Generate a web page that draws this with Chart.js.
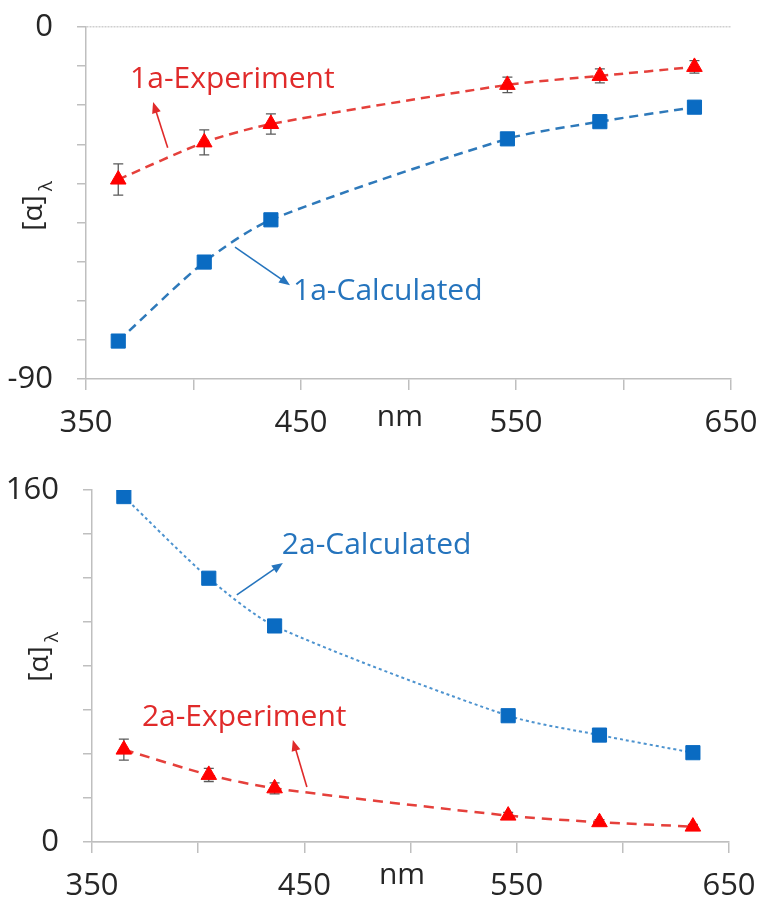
<!DOCTYPE html>
<html>
<head>
<meta charset="utf-8">
<script src="https://cdn.jsdelivr.net/npm/chart.js@4.4.1/dist/chart.umd.min.js"></script>
<style>
  html, body { margin: 0; padding: 0; background: #fff; }
  canvas { display: block; }
</style>
</head>
<body>
<canvas id="chart1a" width="760" height="440"></canvas>
<canvas id="chart2a" width="760" height="460"></canvas>
<script>
// wavelengths (nm) shared by both panels
const wavelengths = [365, 405, 436, 546, 589, 633];

// compound 1a
const exp1a = [-39, -29.5, -24.8, -14.8, -12.5, -10.2];
const err1a = [4, 3.2, 2.6, 2, 1.8, 1.6];
const calc1a = [-80.3, -60.1, -49.3, -28.6, -24.2, -20.5];

// compound 2a
const calc2a = [157, 119.9, 98.2, 57.4, 48.6, 40.6];
const exp2a = [42, 30.5, 24.4, 12, 9, 7];
const err2a = [4.8, 3, 2.5, 1.5, 1.2, 1];

const xTicks = [350, 450, 550, 650];

Chart.defaults.font.family = '"Open Sans", sans-serif';
Chart.defaults.color = '#262626';

const RED = '#ff0000';
const RED_LINE = '#e5403b';
const BLUE = '#0a6bc2';
const BLUE_LINE = '#2e79ba';

function points(ys) {
  return wavelengths.map((w, i) => ({ x: w, y: ys[i] }));
}

// vertical error bars with caps, drawn under the markers
const errorBars = {
  id: 'errorBars',
  beforeDatasetsDraw(chart, args, opts) {
    const { ctx, scales: { x, y } } = chart;
    const data = chart.data.datasets[opts.dataset].data;
    ctx.save();
    ctx.strokeStyle = '#5a5a5a';
    ctx.lineWidth = 1.3;
    opts.errors.forEach((e, i) => {
      const px = x.getPixelForValue(data[i].x);
      const t = y.getPixelForValue(data[i].y + e);
      const b = y.getPixelForValue(data[i].y - e);
      ctx.beginPath();
      ctx.moveTo(px, t); ctx.lineTo(px, b);
      ctx.moveTo(px - 5, t); ctx.lineTo(px + 5, t);
      ctx.moveTo(px - 5, b); ctx.lineTo(px + 5, b);
      ctx.stroke();
    });
    ctx.restore();
  }
};

// series captions with pointer arrows, placed in data units
const captions = {
  id: 'captions',
  afterDraw(chart, args, opts) {
    const { ctx, scales: { x, y } } = chart;
    ctx.save();
    opts.notes.forEach(n => {
      ctx.fillStyle = n.color;
      ctx.font = '30px "Open Sans", sans-serif';
      ctx.textBaseline = 'middle';
      ctx.textAlign = 'left';
      ctx.fillText(n.text, x.getPixelForValue(n.x), y.getPixelForValue(n.y));

      const x0 = x.getPixelForValue(n.from[0]), y0 = y.getPixelForValue(n.from[1]);
      const x1 = x.getPixelForValue(n.to[0]), y1 = y.getPixelForValue(n.to[1]);
      const a = Math.atan2(y1 - y0, x1 - x0);
      ctx.strokeStyle = n.color;
      ctx.lineWidth = 1.6;
      ctx.beginPath();
      ctx.moveTo(x0, y0);
      ctx.lineTo(x1 - 8 * Math.cos(a), y1 - 8 * Math.sin(a));
      ctx.stroke();
      ctx.beginPath();
      ctx.moveTo(x1, y1);
      ctx.lineTo(x1 - 11 * Math.cos(a) + 4.5 * Math.sin(a), y1 - 11 * Math.sin(a) - 4.5 * Math.cos(a));
      ctx.lineTo(x1 - 11 * Math.cos(a) - 4.5 * Math.sin(a), y1 - 11 * Math.sin(a) + 4.5 * Math.cos(a));
      ctx.closePath();
      ctx.fill();
    });
    ctx.restore();
  }
};

// rotated "[α]" with subscript λ, plus the "nm" unit under the x axis
const axisTitles = {
  id: 'axisTitles',
  afterDraw(chart, args, opts) {
    const { ctx, chartArea, scales: { x } } = chart;
    ctx.save();
    ctx.fillStyle = '#262626';
    ctx.textBaseline = 'middle';
    ctx.textAlign = 'left';

    ctx.font = '30px "Open Sans", sans-serif';
    ctx.fillText('nm', x.getPixelForValue(opts.unitAt) - 21, chartArea.bottom + opts.unitDy);

    ctx.translate(opts.titleX, (chartArea.top + chartArea.bottom) / 2 + opts.titleDy);
    ctx.rotate(-Math.PI / 2);
    ctx.font = '28px "Open Sans", sans-serif';
    const w = ctx.measureText('[α]').width;
    ctx.fillText('[α]', -w / 2 - 10, 0);
    ctx.font = '19px "Open Sans", sans-serif';
    ctx.fillText('λ', w / 2 - 6, 13);
    ctx.restore();
  }
};

function makeChart(id, cfg) {
  return new Chart(document.getElementById(id), {
    type: 'line',
    data: { datasets: cfg.datasets },
    plugins: [errorBars, captions, axisTitles],
    options: {
      responsive: false,
      animation: false,
      layout: { padding: cfg.padding },
      plugins: {
        legend: { display: false },
        tooltip: { enabled: false },
        errorBars: cfg.errorBars,
        captions: { notes: cfg.notes },
        axisTitles: cfg.titles
      },
      scales: {
        x: {
          type: 'linear',
          min: 350,
          max: 650,
          ticks: {
            stepSize: 50,
            autoSkip: false,
            maxRotation: 0,
            padding: cfg.xPad,
            font: { size: 31 },
            callback: v => xTicks.includes(v) ? String(v) : ''
          },
          grid: { drawOnChartArea: false, tickLength: 11, color: '#bfbfbf', lineWidth: 1.5 },
          border: { color: '#bfbfbf', width: 1.5 },
          afterFit: s => {
            s.height = cfg.xHeight;
            s.paddingLeft = 0;
            s.paddingRight = 0;
          }
        },
        y: {
          min: cfg.yMin,
          max: cfg.yMax,
          ticks: {
            stepSize: cfg.yStep,
            autoSkip: false,
            padding: cfg.yPad,
            font: { size: 31 },
            callback: v => (v === cfg.yMin || v === cfg.yMax) ? String(v) : ''
          },
          grid: {
            tickLength: 9,
            lineWidth: 1.5,
            tickColor: '#bfbfbf',
            color: ctx => (ctx.tick && ctx.tick.value === 0) ? '#cfcfcf' : 'rgba(0,0,0,0)'
          },
          border: { color: '#bfbfbf', width: 1.5, dash: cfg.zeroDash },
          afterFit: s => {
            s.width = cfg.yWidth;
            s.paddingTop = 0;
            s.paddingBottom = 0;
          }
        }
      }
    }
  });
}

makeChart('chart1a', {
  padding: { top: 27, right: 29, left: 0, bottom: 0 },
  yMin: -90, yMax: 0, yStep: 10,
  yWidth: 86, xHeight: 61, xPad: 15, yPad: 24,
  zeroDash: [2, 1],
  datasets: [
    {
      label: '1a-Experiment',
      data: points(exp1a),
      borderColor: RED_LINE, borderWidth: 2.5, borderDash: [9, 6], tension: 0.25,
      pointStyle: 'triangle', pointRadius: 9,
      pointBackgroundColor: RED, pointBorderColor: RED, pointBorderWidth: 1
    },
    {
      label: '1a-Calculated',
      data: points(calc1a),
      borderColor: BLUE_LINE, borderWidth: 2.5, borderDash: [9, 6], tension: 0.25,
      pointStyle: 'rect', pointRadius: 10,
      pointBackgroundColor: BLUE, pointBorderColor: BLUE, pointBorderWidth: 1
    }
  ],
  errorBars: { dataset: 0, errors: err1a },
  notes: [
    { text: '1a-Experiment', color: '#e02a2a', x: 370.5, y: -13.4, from: [388, -30.9], to: [381.2, -19.2] },
    { text: '1a-Calculated', color: '#2574bd', x: 446.3, y: -67.5, from: [419.3, -56.3], to: [444.9, -66] }
  ],
  titles: { unitAt: 495, unitDy: 38, titleX: 34, titleDy: 0 }
});

makeChart('chart2a', {
  padding: { top: 50, right: 31, left: 0, bottom: 0 },
  yMin: 0, yMax: 160, yStep: 20,
  yWidth: 92, xHeight: 58, xPad: 15, yPad: 24,
  zeroDash: [],
  datasets: [
    {
      label: '2a-Calculated',
      data: points(calc2a),
      borderColor: '#4d93cf', borderWidth: 2, borderDash: [3, 3], tension: 0.25,
      pointStyle: 'rect', pointRadius: 10,
      pointBackgroundColor: BLUE, pointBorderColor: BLUE, pointBorderWidth: 1
    },
    {
      label: '2a-Experiment',
      data: points(exp2a),
      borderColor: RED_LINE, borderWidth: 2.5, borderDash: [10, 7], tension: 0.25,
      pointStyle: 'triangle', pointRadius: 9,
      pointBackgroundColor: RED, pointBorderColor: RED, pointBorderWidth: 1
    }
  ],
  errorBars: { dataset: 1, errors: err2a },
  notes: [
    { text: '2a-Calculated', color: '#2574bd', x: 439.4, y: 135, from: [418.2, 112.3], to: [439.9, 126.8] },
    { text: '2a-Experiment', color: '#e02a2a', x: 373.5, y: 56.8, from: [451.2, 25], to: [444.6, 46.4] }
  ],
  titles: { unitAt: 495, unitDy: 33, titleX: 40, titleDy: -12 }
});
</script>
</body>
</html>
